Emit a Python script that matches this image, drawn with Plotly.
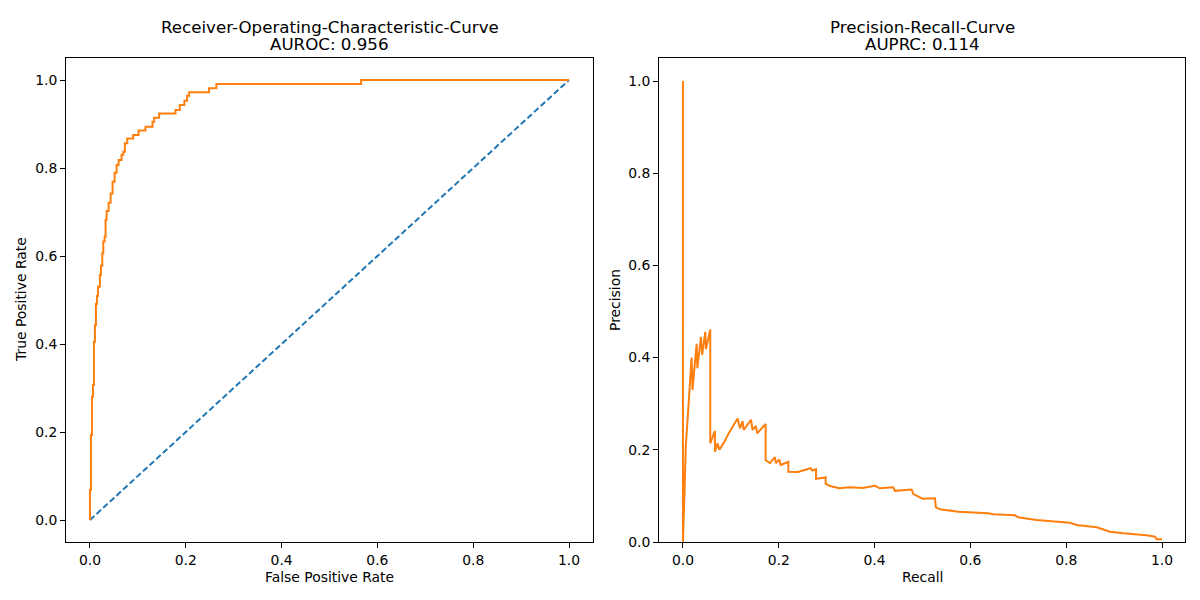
import plotly.graph_objects as go

# ROC curve corner points (step curve)
roc_fpr = [0.0, 0.0, 0.0021, 0.0042, 0.0063, 0.0083, 0.0104, 0.0125, 0.0146, 0.0167,
           0.0208, 0.0229, 0.0257, 0.0278, 0.0306, 0.0326, 0.0347, 0.0389, 0.0431,
           0.0472, 0.0514, 0.0556, 0.0597, 0.066, 0.0694, 0.0729, 0.0778, 0.0903,
           0.1014, 0.116, 0.1306, 0.134, 0.1444, 0.1785, 0.1875, 0.1972, 0.2028,
           0.2069, 0.2486, 0.2639, 0.566, 1.0]
roc_tpr = [0.0, 0.068, 0.193, 0.280, 0.307, 0.405, 0.443, 0.491, 0.509, 0.530,
           0.557, 0.578, 0.606, 0.633, 0.644, 0.682, 0.702, 0.721, 0.742,
           0.769, 0.789, 0.807, 0.818, 0.830, 0.837, 0.856, 0.867, 0.875,
           0.885, 0.894, 0.905, 0.914, 0.924, 0.932, 0.943, 0.953, 0.964,
           0.972, 0.981, 0.991, 1.0, 1.0]

chance_x = [0.0, 1.0]
chance_y = [0.0, 1.0]

# Precision-recall curve points
pr_recall = [0.0, 0.0, 0.003, 0.006, 0.010, 0.013, 0.018, 0.020, 0.0285, 0.030,
             0.0376, 0.040, 0.0466, 0.048, 0.057, 0.057, 0.0668, 0.0668, 0.0724, 0.076,
             0.085, 0.095, 0.105, 0.114, 0.119, 0.1246, 0.1267, 0.142, 0.1455, 0.152,
             0.155, 0.1726, 0.1726, 0.1816, 0.192, 0.194, 0.201, 0.204, 0.220, 0.220,
             0.240, 0.2665, 0.270, 0.2777, 0.2777, 0.298, 0.298, 0.307, 0.3265, 0.3486,
             0.375, 0.4008, 0.411, 0.439, 0.4426, 0.4774, 0.481, 0.5004, 0.526, 0.528,
             0.5365, 0.5748, 0.6374, 0.648, 0.693, 0.700, 0.738, 0.770, 0.808, 0.822,
             0.8636, 0.8914, 0.919, 0.968, 0.9854, 0.989, 1.0]
pr_precision = [1.0, 0.0, 0.10, 0.21, 0.27, 0.32, 0.40, 0.33, 0.43, 0.377,
                0.445, 0.406, 0.456, 0.418, 0.461, 0.214, 0.241, 0.196, 0.214, 0.200,
                0.215, 0.235, 0.252, 0.268, 0.247, 0.262, 0.243, 0.265, 0.243, 0.252,
                0.236, 0.256, 0.178, 0.171, 0.184, 0.171, 0.179, 0.167, 0.174, 0.1525,
                0.152, 0.160, 0.155, 0.158, 0.137, 0.140, 0.126, 0.1215, 0.1165, 0.1186,
                0.117, 0.122, 0.1165, 0.1186, 0.111, 0.114, 0.104, 0.094, 0.0947, 0.0752,
                0.0709, 0.0658, 0.0622, 0.060, 0.0578, 0.0535, 0.0477, 0.045, 0.0419, 0.0369,
                0.0318, 0.0224, 0.0188, 0.0145, 0.0116, 0.0058, 0.0058]

tick_vals = [0.0, 0.2, 0.4, 0.6, 0.8, 1.0]
tick_text = ["0.0", "0.2", "0.4", "0.6", "0.8", "1.0"]

BLUE = "#1f77b4"
ORANGE = "#ff7f0e"
FONT = "DejaVu Sans"

fig = go.Figure()
fig.add_trace(go.Scatter(x=chance_x, y=chance_y, mode="lines",
                         line=dict(color=BLUE, width=2, dash="6px,3px"),
                         xaxis="x", yaxis="y", showlegend=False, hoverinfo="skip"))
fig.add_trace(go.Scatter(x=roc_fpr, y=roc_tpr, mode="lines",
                         line=dict(color=ORANGE, width=2, shape="hv"),
                         xaxis="x", yaxis="y", showlegend=False))
fig.add_trace(go.Scatter(x=pr_recall, y=pr_precision, mode="lines",
                         line=dict(color=ORANGE, width=2),
                         xaxis="x2", yaxis="y2", showlegend=False))

W, H = 1200, 600
L1, R1 = 66, 593
L2, R2 = 659, 1185
TOP, BOT = 58, 542
ydom = [1 - BOT / H, 1 - TOP / H]

axis_common = dict(showline=True, mirror=True, linecolor="black", linewidth=1,
                   ticks="outside", ticklen=5, tickwidth=1, tickcolor="black",
                   showgrid=False, zeroline=False,
                   tickfont=dict(family=FONT, size=13.9, color="black"),
                   tickmode="array", tickvals=tick_vals, ticktext=tick_text)

fig.update_layout(
    width=W, height=H,
    margin=dict(l=0, r=0, t=0, b=0, autoexpand=False),
    paper_bgcolor="white", plot_bgcolor="white",
    font=dict(family=FONT, color="black"),
    xaxis=dict(domain=[L1 / W, R1 / W], range=[-0.05, 1.05], anchor="y", **axis_common),
    yaxis=dict(domain=ydom, range=[-0.05, 1.05], anchor="x", **axis_common),
    xaxis2=dict(domain=[L2 / W, R2 / W], range=[-0.05, 1.048], anchor="y2", **axis_common),
    yaxis2=dict(domain=ydom, range=[0.0, 1.05], anchor="x2", **axis_common),
)

ann = []
def text_at(xc, yc, t, size, angle=0):
    ann.append(dict(x=xc / W, y=1 - yc / H, xref="paper", yref="paper",
                    xanchor="center", yanchor="middle", showarrow=False, text=t,
                    textangle=angle, font=dict(family=FONT, size=size, color="black")))

text_at((L1 + R1) / 2, 27.5, "Receiver-Operating-Characteristic-Curve", 16.67)
text_at((L1 + R1) / 2, 45, "AUROC: 0.956", 16.67)
text_at((L2 + R2) / 2, 27.5, "Precision-Recall-Curve", 16.67)
text_at((L2 + R2) / 2, 45, "AUPRC: 0.114", 16.67)

text_at((L1 + R1) / 2, 577, "False Positive Rate", 13.9)
text_at((L2 + R2) / 2, 577, "Recall", 13.9)
text_at(21, 300, "True Positive Rate", 13.9, -90)
text_at(615, 300, "Precision", 13.9, -90)

fig.update_layout(annotations=ann)
fig.write_html("out.html", config={"displayModeBar": False},
               post_script="document.body.style.margin='0';document.body.style.padding='0';")
